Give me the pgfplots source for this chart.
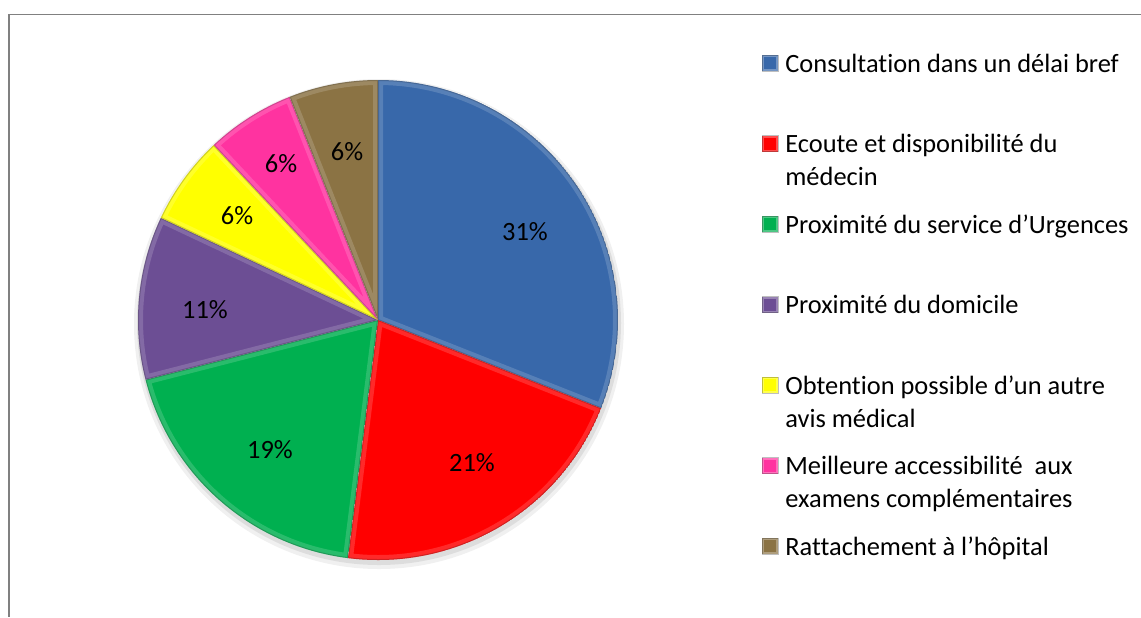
\documentclass[border=0pt]{standalone}
\usepackage{pgfplots}
\pgfplotsset{compat=1.18}
\usepackage{pgfplotstable}
\usepackage{fontspec}
\setmainfont{Carlito}[Ligatures=NoCommon]
\definecolor{cBlue}{RGB}{56,104,170}
\definecolor{cRed}{RGB}{255,0,0}
\definecolor{cGreen}{RGB}{0,176,80}
\definecolor{cPurple}{RGB}{108,78,148}
\definecolor{cYellow}{RGB}{255,255,0}
\definecolor{cPink}{RGB}{255,51,160}
\definecolor{cBrown}{RGB}{139,115,68}
\definecolor{frame}{RGB}{128,128,128}

\pgfplotstableread[col sep=comma]{
value,color,lx,ly
31,cBlue,525,232
21,cRed,472,463
19,cGreen,270,450
11,cPurple,205,310
6,cYellow,237,216
6,cPink,281,164
6,cBrown,347,152
}\piedata

\def\cumval{0}%
\pgfplotsforeachungrouped \i in {0,...,6}{%
  \pgfplotstablegetelem{\i}{value}\of\piedata%
  \let\v\pgfplotsretval%
  \pgfmathsetmacro\sa{90-3.6*\cumval}%
  \pgfmathsetmacro\ea{90-3.6*(\cumval+\v)}%
  \expandafter\xdef\csname sa\i\endcsname{\sa}%
  \expandafter\xdef\csname ea\i\endcsname{\ea}%
  \expandafter\xdef\csname pv\i\endcsname{\v}%
  \pgfplotstablegetelem{\i}{color}\of\piedata%
  \expandafter\xdef\csname col\i\endcsname{\pgfplotsretval}%
  \pgfplotstablegetelem{\i}{lx}\of\piedata%
  \expandafter\xdef\csname lx\i\endcsname{\pgfplotsretval}%
  \pgfplotstablegetelem{\i}{ly}\of\piedata%
  \expandafter\xdef\csname ly\i\endcsname{\pgfplotsretval}%
  \pgfmathsetmacro\cumval{\cumval+\v}%
  \xdef\cumval{\cumval}%
}%

\begin{document}
\begin{tikzpicture}
\begin{axis}[
  scale only axis, width=570.5pt, height=308.5pt,
  xmin=0, xmax=1141, ymin=0, ymax=617, y dir=reverse,
  hide axis, clip=false,
]
\coordinate (TL) at (axis cs:0,0);
\coordinate (BR) at (axis cs:1141,617);
% soft shadow
\fill[black, opacity=0.06] (axis cs:379,324) circle[radius=122.5pt];
\fill[black, opacity=0.08] (axis cs:379,323) circle[radius=121pt];
\pgfplotsinvokeforeach{0,...,6}{
  \begin{scope}
    \clip (axis cs:378,320) -- ++(\csname sa#1\endcsname:120pt)
      arc[start angle=\csname sa#1\endcsname, end angle=\csname ea#1\endcsname, radius=120pt] -- cycle;
    \fill[\csname col#1\endcsname] (axis cs:378,320) -- ++(\csname sa#1\endcsname:120pt)
      arc[start angle=\csname sa#1\endcsname, end angle=\csname ea#1\endcsname, radius=120pt] -- cycle;
    \draw[white, opacity=0.16, line width=5pt] (axis cs:378,320) -- ++(\csname sa#1\endcsname:120pt)
      arc[start angle=\csname sa#1\endcsname, end angle=\csname ea#1\endcsname, radius=120pt] -- cycle;
    \draw[black, opacity=0.18, line width=1pt] (axis cs:378,320) -- ++(\csname sa#1\endcsname:120pt)
      arc[start angle=\csname sa#1\endcsname, end angle=\csname ea#1\endcsname, radius=120pt] -- cycle;
  \end{scope}
  \node[font=\fontsize{13.2}{15}\selectfont] at (axis cs:\csname lx#1\endcsname,\csname ly#1\endcsname) {\csname pv#1\endcsname\%};
}
% legend
\pgfplotsinvokeforeach{0,...,6}{
  \fill[\csname col#1\endcsname] (axis cs:762,{72+80.5*#1-17}) rectangle (axis cs:778,{72+80.5*#1-1});
  \draw[white, opacity=0.3, line width=1pt] (axis cs:763,{72+80.5*#1-16}) rectangle (axis cs:777,{72+80.5*#1-2});
  \draw[black, opacity=0.25, line width=0.4pt] (axis cs:762,{72+80.5*#1-17}) rectangle (axis cs:778,{72+80.5*#1-1});
}
\tikzset{leg/.style={anchor=base west, align=left, inner sep=0pt, font=\fontsize{13.2}{16.5}\selectfont}}
\node[leg] at (axis cs:785,72) {Consultation dans un délai bref};
\node[leg] at (axis cs:785,185.5) {Ecoute et disponibilité du\\médecin};
\node[leg] at (axis cs:785,233) {Proximité du service d’Urgences};
\node[leg] at (axis cs:785,313.5) {Proximité du domicile};
\node[leg] at (axis cs:785,427) {Obtention possible d’un autre\\avis médical};
\node[leg] at (axis cs:785,507.5) {Meilleure accessibilité\ \ aux\\examens complémentaires};
\node[leg] at (axis cs:785,555) {Rattachement à l’hôpital};
% frame
\draw[frame, line width=0.8pt] (axis cs:1141,14.5) -- (axis cs:9,14.5) -- (axis cs:9,617);
\end{axis}
\pgfresetboundingbox
\path[use as bounding box] (TL) rectangle (BR);
\end{tikzpicture}
\end{document}
